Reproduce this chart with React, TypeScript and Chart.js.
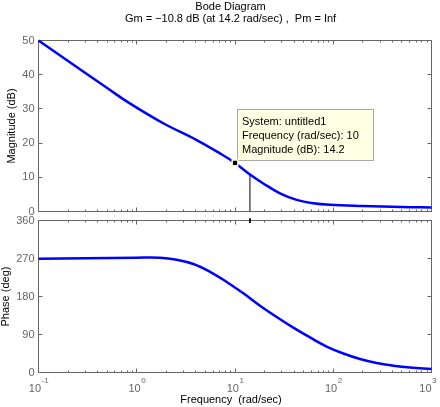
import React, { useEffect, useRef } from "react";
import { Chart, registerables } from "chart.js";

Chart.register(...registerables);

const W = 440;
const H = 407;
const FONT = "'Liberation Sans', Arial, Helvetica, sans-serif";
const AXIS = "#666666";
const CURVE = "#0000ff";

// ---- data ----
const magFreq = [0.1, 0.2, 0.3, 0.5, 0.85, 1.86, 4.07, 7.03, 10, 14.2, 19.4, 28.7, 42.4, 62.7, 92.7, 200, 500, 1000];
const magDb = [50, 44, 40.5, 36.1, 31.6, 25.8, 20.9, 17.0, 14.2, 10.8, 8.2, 5.3, 3.4, 2.4, 1.95, 1.6, 1.3, 1.2];

const phaseFreq = [0.1, 0.3, 1, 1.72, 2.55, 3.77, 5.57, 8.23, 12.16, 17.97, 26.56, 39.25, 58, 85.7, 126.7, 187.2, 276.7, 408.9, 604.2, 1000];
const phaseDeg = [269.5, 270.5, 272, 271.9, 267.2, 257.0, 238.5, 214.5, 187.5, 158.3, 131.4, 106.2, 83, 61.5, 45.0, 32.0, 22.5, 16.2, 11.8, 8.3];

const magTicks = [0, 10, 20, 30, 40, 50];
const phaseTicks = [0, 90, 180, 270, 360];
const decades = [0.1, 1, 10, 100, 1000];
const decadeExps = ["-1", "0", "1", "2", "3"];
const minorMult = [2, 3, 4, 5, 6, 7, 8, 9];

const tipFreq = 10;
const tipMag = 14.2;
const gmFreq = 14.2;
const gmDb = 10.8;

const titleLines = ["Bode Diagram", "Gm = \u221210.8 dB (at 14.2 rad/sec) ,  Pm = Inf"];
const tipLines = ["System: untitled1", "Frequency (rad/sec): 10", "Magnitude (dB): 14.2"];
const magLabel = "Magnitude (dB)";
const phaseLabel = "Phase (deg)";
const freqLabel = "Frequency  (rad/sec)";

const snap = (p: number) => Math.floor(p) + 0.5;

function drawFrame(chart: any, yTicks: number[]) {
  const { ctx, chartArea: a } = chart;
  const xs = chart.scales.x;
  const ys = chart.scales.y;
  ctx.save();
  ctx.strokeStyle = AXIS;
  ctx.lineWidth = 1;
  ctx.beginPath();
  ctx.rect(a.left, a.top, a.right - a.left, a.bottom - a.top);
  for (const v of yTicks) {
    const py = snap(ys.getPixelForValue(v));
    ctx.moveTo(a.left, py);
    ctx.lineTo(a.left + 4, py);
    ctx.moveTo(a.right, py);
    ctx.lineTo(a.right - 4, py);
  }
  decades.forEach((d, i) => {
    const px = snap(xs.getPixelForValue(d));
    ctx.moveTo(px, a.top);
    ctx.lineTo(px, a.top + 4);
    ctx.moveTo(px, a.bottom);
    ctx.lineTo(px, a.bottom - 4);
    if (i < decades.length - 1) {
      for (const m of minorMult) {
        const qx = snap(xs.getPixelForValue(d * m));
        ctx.moveTo(qx, a.top);
        ctx.lineTo(qx, a.top + 2);
        ctx.moveTo(qx, a.bottom);
        ctx.lineTo(qx, a.bottom - 2);
      }
    }
  });
  ctx.stroke();
  ctx.restore();
}

function drawYLabel(chart: any, text: string, baseX: number) {
  const { ctx, chartArea: a } = chart;
  ctx.save();
  ctx.translate(baseX, (a.top + a.bottom) / 2);
  ctx.rotate(-Math.PI / 2);
  ctx.font = `11px ${FONT}`;
  ctx.fillStyle = "#000";
  ctx.textAlign = "center";
  ctx.textBaseline = "alphabetic";
  ctx.fillText(text, 0, 0);
  ctx.restore();
}

const decorPlugin = {
  id: "bodeDecor",
  beforeDatasetsDraw(chart: any, _args: any, opts: any) {
    drawFrame(chart, opts.yTicks);
    if (opts.tip) {
      const { ctx } = chart;
      const px = chart.scales.x.getPixelForValue(tipFreq);
      const py = chart.scales.y.getPixelForValue(tipMag);
      const left = Math.round(px + 2) + 0.5;
      const top = Math.round(py - 53.5) + 0.5;
      const w = 136;
      const h = 51;
      ctx.save();
      ctx.fillStyle = "rgb(255,255,228)";
      ctx.strokeStyle = "#a8a8a8";
      ctx.lineWidth = 1;
      ctx.fillRect(left, top, w, h);
      ctx.strokeRect(left, top, w, h);
      ctx.font = `11px ${FONT}`;
      ctx.fillStyle = "#000";
      ctx.textAlign = "left";
      ctx.textBaseline = "alphabetic";
      tipLines.forEach((t, i) => ctx.fillText(t, left + 4.5, top + 15.5 + i * 14));
      ctx.restore();
    }
  },
  afterDraw(chart: any, _args: any, opts: any) {
    const { ctx, chartArea: a } = chart;
    if (opts.title) {
      ctx.save();
      ctx.font = `11px ${FONT}`;
      ctx.fillStyle = "#000";
      ctx.textAlign = "center";
      ctx.textBaseline = "alphabetic";
      ctx.fillText(titleLines[0], 230.5, 9.5);
      ctx.fillText(titleLines[1], 230.5, 22);
      ctx.restore();
    }
    if (opts.yLabel) drawYLabel(chart, opts.yLabel, opts.yLabelX);
    if (opts.xLabels) {
      const xs = chart.scales.x;
      ctx.save();
      ctx.fillStyle = AXIS;
      ctx.textBaseline = "alphabetic";
      ctx.textAlign = "left";
      decades.forEach((d, i) => {
        const px = xs.getPixelForValue(d);
        ctx.font = `11px ${FONT}`;
        const w10 = ctx.measureText("10").width;
        ctx.font = `8px ${FONT}`;
        const we = ctx.measureText(decadeExps[i]).width;
        const total = w10 + we;
        let start = px - total / 2;
        if (start + total > W - 4) start = W - 4 - total;
        ctx.font = `11px ${FONT}`;
        ctx.fillText("10", start, a.bottom + 19);
        ctx.font = `8px ${FONT}`;
        ctx.fillText(decadeExps[i], start + w10 + 0.5, a.bottom + 10.5);
      });
      ctx.font = `11px ${FONT}`;
      ctx.fillStyle = "#000";
      ctx.textAlign = "center";
      ctx.fillText(freqLabel, 231, a.bottom + 30.5);
      ctx.restore();
    }
  },
};

function xScale() {
  return {
    type: "logarithmic",
    min: 0.1,
    max: 1000,
    ticks: { display: false },
    grid: { display: false, drawTicks: false },
    border: { display: false },
    afterFit: (s: any) => {
      s.height = 0;
    },
  };
}

function yScale(min: number, max: number, step: number) {
  return {
    type: "linear",
    min,
    max,
    ticks: {
      stepSize: step,
      color: AXIS,
      font: { family: FONT, size: 11 },
      padding: 4,
      autoSkip: false,
    },
    grid: { display: false, drawTicks: false },
    border: { display: false },
    afterFit: (s: any) => {
      s.width = 38.5;
    },
  };
}

const pts = (xs: number[], ys: number[]) => xs.map((x, i) => ({ x, y: ys[i] }));

export default function App() {
  const magRef = useRef<HTMLCanvasElement>(null);
  const phRef = useRef<HTMLCanvasElement>(null);

  useEffect(() => {
    const common = {
      responsive: false,
      maintainAspectRatio: false,
      animation: false,
      events: [],
    };
    const c1 = new Chart(magRef.current as HTMLCanvasElement, {
      type: "line",
      data: {
        datasets: [
          {
            data: [{ x: tipFreq, y: tipMag }],
            showLine: false,
            pointStyle: "rect",
            pointRadius: 4,
            pointBackgroundColor: "#000",
            pointBorderColor: "rgb(255,255,200)",
            pointBorderWidth: 1.5,
            order: 0,
          },
          {
            data: pts(magFreq, magDb),
            borderColor: CURVE,
            borderWidth: 2.5,
            pointRadius: 0,
            tension: 0.4,
            clip: 4,
            order: 1,
          },
          {
            data: [
              { x: gmFreq, y: 0 },
              { x: gmFreq, y: gmDb },
            ],
            borderColor: "#000",
            borderWidth: 1,
            pointRadius: 0,
            order: 2,
          },
        ],
      },
      options: {
        ...common,
        layout: { padding: { left: 0, top: 40.5, right: W - 431.5, bottom: H - 211.5 } },
        scales: { x: xScale(), y: yScale(0, 50, 10) },
        plugins: {
          legend: { display: false },
          tooltip: { enabled: false },
          bodeDecor: { yTicks: magTicks, tip: true, title: true, yLabel: magLabel, yLabelX: 14.5 },
        },
      } as any,
      plugins: [decorPlugin as any],
    });

    const c2 = new Chart(phRef.current as HTMLCanvasElement, {
      type: "line",
      data: {
        datasets: [
          {
            data: pts(phaseFreq, phaseDeg),
            borderColor: CURVE,
            borderWidth: 2.5,
            pointRadius: 0,
            tension: 0.4,
            clip: 4,
            order: 0,
          },
          {
            data: [
              { x: gmFreq, y: 365 },
              { x: gmFreq, y: 354 },
            ],
            borderColor: "#000",
            borderWidth: 1,
            pointRadius: 0,
            clip: false,
            order: 1,
          },
        ],
      },
      options: {
        ...common,
        layout: { padding: { left: 0, top: 220.5, right: W - 431.5, bottom: H - 372.5 } },
        scales: { x: xScale(), y: yScale(0, 360, 90) },
        plugins: {
          legend: { display: false },
          tooltip: { enabled: false },
          bodeDecor: { yTicks: phaseTicks, xLabels: true, yLabel: phaseLabel, yLabelX: 8.5 },
        },
      } as any,
      plugins: [decorPlugin as any],
    });

    return () => {
      c1.destroy();
      c2.destroy();
    };
  }, []);

  const cs: React.CSSProperties = { position: "absolute", left: 0, top: 0, width: W, height: H };
  return (
    <div style={{ position: "absolute", left: 0, top: 0, width: W, height: H, background: "#fff" }}>
      <canvas ref={magRef} width={W} height={H} style={cs} />
      <canvas ref={phRef} width={W} height={H} style={cs} />
    </div>
  );
}
